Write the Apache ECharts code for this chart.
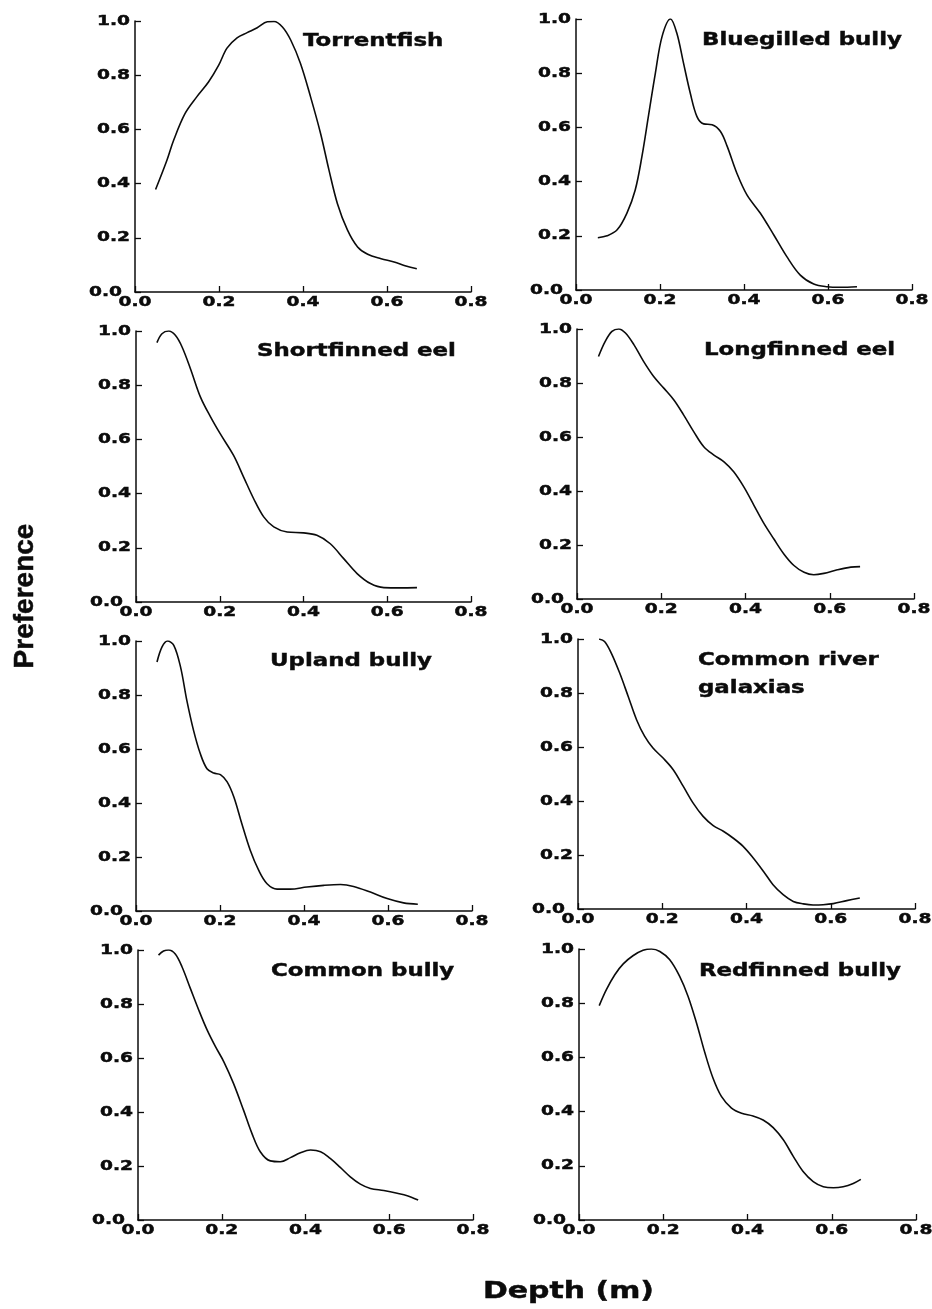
<!DOCTYPE html>
<html>
<head>
<meta charset="utf-8">
<title>Depth preference curves</title>
<script src="https://cdn.jsdelivr.net/npm/echarts@6/dist/echarts.min.js"></script>
<style>
  html, body { margin: 0; padding: 0; background: #ffffff; }
  #chart { width: 932px; height: 1309px; }
</style>
</head>
<body>
<div id="chart"></div>
<script>
// Axis ticks and their labels
const DEPTH_TICKS = [0, 0.2, 0.4, 0.6, 0.8];
const DEPTH_LABELS = ['0.0', '0.2', '0.4', '0.6', '0.8'];
const PREF_TICKS = [0, 0.2, 0.4, 0.6, 0.8, 1.0];
const PREF_LABELS = ['0.0', '0.2', '0.4', '0.6', '0.8', '1.0'];

// Species names, one panel each
const SPECIES = [
  'Torrentfish', 'Bluegilled bully',
  'Shortfinned eel', 'Longfinned eel',
  'Upland bully', 'Common river\ngalaxias',
  'Common bully', 'Redfinned bully'
];

// Preference curves: [depth (m), preference]
const torrentfish = [[0.049,0.378],[0.076,0.486],[0.092,0.560],[0.119,0.658],[0.147,0.720],[0.175,0.775],[0.199,0.836],[0.219,0.900],[0.243,0.938],[0.267,0.957],[0.291,0.975],[0.315,0.997],[0.331,0.998],[0.351,0.978],[0.371,0.929],[0.394,0.843],[0.418,0.720],[0.442,0.584],[0.462,0.449],[0.482,0.326],[0.506,0.228],[0.530,0.166],[0.554,0.139],[0.586,0.123],[0.617,0.111],[0.645,0.096],[0.671,0.086]];
const bluegilledBully = [[0.052,0.193],[0.074,0.200],[0.098,0.222],[0.121,0.283],[0.141,0.369],[0.157,0.493],[0.173,0.647],[0.189,0.800],[0.205,0.936],[0.225,1.0],[0.240,0.948],[0.256,0.837],[0.272,0.727],[0.288,0.640],[0.304,0.613],[0.324,0.610],[0.344,0.585],[0.360,0.530],[0.383,0.431],[0.407,0.351],[0.439,0.283],[0.471,0.203],[0.502,0.123],[0.534,0.055],[0.566,0.022],[0.598,0.012],[0.629,0.010],[0.669,0.012]];
const shortfinnedEel = [[0.050,0.957],[0.062,0.990],[0.078,1.0],[0.094,0.984],[0.110,0.941],[0.130,0.861],[0.154,0.756],[0.178,0.683],[0.201,0.621],[0.233,0.541],[0.257,0.461],[0.281,0.381],[0.305,0.314],[0.329,0.277],[0.361,0.258],[0.400,0.255],[0.432,0.246],[0.464,0.215],[0.496,0.160],[0.528,0.105],[0.560,0.068],[0.592,0.053],[0.631,0.052],[0.671,0.053]];
const longfinnedEel = [[0.051,0.898],[0.067,0.954],[0.083,0.991],[0.099,1.0],[0.115,0.985],[0.135,0.942],[0.158,0.880],[0.182,0.824],[0.206,0.781],[0.230,0.737],[0.253,0.682],[0.277,0.620],[0.301,0.564],[0.325,0.533],[0.349,0.508],[0.372,0.471],[0.396,0.415],[0.420,0.347],[0.444,0.279],[0.467,0.223],[0.491,0.167],[0.515,0.124],[0.539,0.099],[0.562,0.090],[0.586,0.095],[0.618,0.108],[0.650,0.118],[0.672,0.120]];
const uplandBully = [[0.050,0.922],[0.062,0.978],[0.075,1.0],[0.090,0.984],[0.106,0.904],[0.121,0.780],[0.137,0.669],[0.153,0.583],[0.169,0.527],[0.185,0.511],[0.201,0.505],[0.217,0.478],[0.233,0.422],[0.252,0.323],[0.272,0.225],[0.292,0.151],[0.312,0.101],[0.336,0.081],[0.367,0.081],[0.407,0.089],[0.447,0.095],[0.487,0.098],[0.518,0.091],[0.558,0.070],[0.598,0.046],[0.637,0.030],[0.671,0.025]];
const commonRiverGalaxias = [[0.050,1.0],[0.063,0.991],[0.079,0.948],[0.099,0.874],[0.119,0.788],[0.139,0.701],[0.158,0.640],[0.178,0.596],[0.202,0.559],[0.226,0.516],[0.250,0.454],[0.273,0.393],[0.297,0.343],[0.321,0.309],[0.345,0.288],[0.368,0.263],[0.392,0.232],[0.416,0.189],[0.440,0.140],[0.463,0.090],[0.487,0.053],[0.511,0.028],[0.535,0.019],[0.558,0.015],[0.582,0.016],[0.606,0.020],[0.638,0.031],[0.669,0.041]];
const commonBully = [[0.049,0.981],[0.061,0.996],[0.073,1.0],[0.089,0.985],[0.105,0.938],[0.125,0.858],[0.145,0.778],[0.165,0.704],[0.185,0.642],[0.205,0.586],[0.228,0.506],[0.252,0.407],[0.272,0.321],[0.292,0.253],[0.316,0.219],[0.340,0.216],[0.364,0.231],[0.388,0.249],[0.412,0.259],[0.436,0.253],[0.459,0.228],[0.483,0.195],[0.507,0.160],[0.531,0.133],[0.555,0.117],[0.587,0.109],[0.619,0.099],[0.643,0.090],[0.669,0.074]];
const redfinnedBully = [[0.048,0.791],[0.065,0.850],[0.085,0.905],[0.105,0.945],[0.128,0.975],[0.152,0.995],[0.172,1.0],[0.192,0.991],[0.215,0.961],[0.239,0.899],[0.259,0.825],[0.279,0.727],[0.299,0.616],[0.318,0.524],[0.338,0.456],[0.362,0.413],[0.386,0.394],[0.413,0.384],[0.437,0.369],[0.461,0.341],[0.485,0.296],[0.509,0.234],[0.532,0.179],[0.556,0.142],[0.580,0.123],[0.604,0.119],[0.627,0.123],[0.651,0.135],[0.669,0.150]];

const CURVES = [
  torrentfish, bluegilledBully,
  shortfinnedEel, longfinnedEel,
  uplandBully, commonRiverGalaxias,
  commonBully, redfinnedBully
];

// Panel placement (two columns, four rows)
const GRIDS = [
  { left: 135, top: 21,  width: 336, height: 271 },
  { left: 576, top: 19,  width: 336, height: 271 },
  { left: 136, top: 331, width: 335, height: 271 },
  { left: 577, top: 329, width: 337, height: 270 },
  { left: 136, top: 641, width: 336, height: 270 },
  { left: 578, top: 639, width: 337, height: 270 },
  { left: 138, top: 950, width: 335, height: 270 },
  { left: 579, top: 949, width: 337, height: 271 }
];
// Species name anchors: [left, centre of first line]
const TITLE_POS = [
  [303, 41], [702, 40],
  [257, 351], [704, 350],
  [270, 661], [698, 660],
  [271, 971], [699, 971]
];

const INK = '#0b0b0b';
const WIDE_FONT = '"DejaVu Sans", sans-serif';

const chart = echarts.init(document.getElementById('chart'), null, { renderer: 'canvas' });

const axisCommon = {
  axisLine: { show: true, onZero: false, lineStyle: { color: INK, width: 1.5 } },
  axisTick: { show: true, inside: true, length: 6, lineStyle: { color: INK, width: 1.3 } },
  axisLabel: { show: false },
  splitLine: { show: false }
};

const option = {
  backgroundColor: '#ffffff',
  animation: false,
  grid: GRIDS.map(g => Object.assign({ containLabel: false }, g)),
  xAxis: GRIDS.map((g, i) => Object.assign({
    type: 'value', gridIndex: i, min: 0, max: 0.8, interval: 0.2
  }, axisCommon)),
  yAxis: GRIDS.map((g, i) => Object.assign({
    type: 'value', gridIndex: i, min: 0, max: 1, interval: 0.2
  }, axisCommon)),
  series: CURVES.map((d, i) => ({
    type: 'line',
    name: SPECIES[i],
    xAxisIndex: i,
    yAxisIndex: i,
    data: d,
    smooth: 0.35,
    showSymbol: false,
    symbol: 'none',
    lineStyle: { color: INK, width: 1.6 },
    silent: true
  }))
};

chart.setOption(option);

// Heavy, wide lettering used for every text item
function wideText(x, y, text, size, scaleX, align, vAlign, extra) {
  return Object.assign({
    type: 'text', x: x, y: y, scaleX: scaleX, silent: true,
    style: {
      text: text, x: 0, y: 0,
      font: 'bold ' + size + 'px ' + WIDE_FONT,
      fill: INK, stroke: INK, lineWidth: 0.45,
      textAlign: align, align: align,
      textVerticalAlign: vAlign, verticalAlign: vAlign
    }
  }, extra || {});
}

// Text layer: tick labels placed through each panel's own scales, plus titles
const graphics = [];
GRIDS.forEach((g, i) => {
  DEPTH_TICKS.forEach((v, k) => {
    const p = chart.convertToPixel({ gridIndex: i }, [v, 0]);
    graphics.push(wideText(p[0], p[1] + 10, DEPTH_LABELS[k], 13.5, 1.38, 'center', 'middle'));
  });
  PREF_TICKS.forEach((v, k) => {
    const p = chart.convertToPixel({ gridIndex: i }, [0, v]);
    const gap = v === 0 ? 13 : 5;
    graphics.push(wideText(p[0] - gap, p[1], PREF_LABELS[k], 13.5, 1.38, 'right', 'middle'));
  });
  const t = wideText(TITLE_POS[i][0], TITLE_POS[i][1] - 14, SPECIES[i], 18, 1.27, 'left', 'top');
  t.style.lineHeight = 28;
  graphics.push(t);
});

// Axis titles
graphics.push(wideText(483, 1292, 'Depth (m)', 23, 1.3, 'left', 'middle'));
graphics.push({
  type: 'text', x: 25, y: 596, rotation: Math.PI / 2, silent: true,
  style: {
    text: 'Preference', x: 0, y: 0,
    font: 'bold 28px "Liberation Sans", Arial, sans-serif',
    fill: INK, stroke: INK, lineWidth: 0.5,
    textAlign: 'center', align: 'center',
    textVerticalAlign: 'middle', verticalAlign: 'middle'
  }
});

chart.setOption({ graphic: { elements: graphics } });
</script>
</body>
</html>
